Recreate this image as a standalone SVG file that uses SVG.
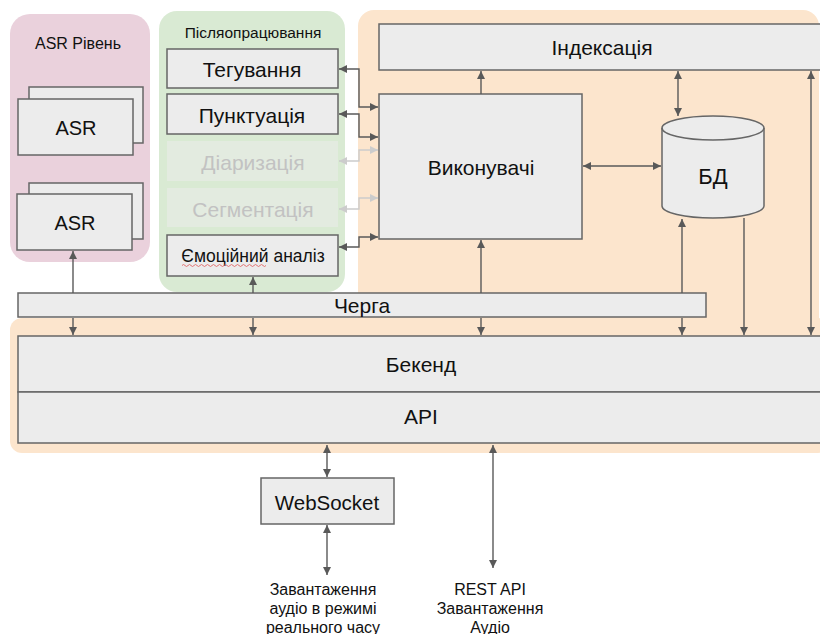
<svg xmlns="http://www.w3.org/2000/svg" width="820" height="634" viewBox="0 0 820 634">
<defs>
<marker id="ah" viewBox="0 0 10 10" refX="10" refY="5" markerWidth="9" markerHeight="8" markerUnits="userSpaceOnUse" orient="auto-start-reverse"><path d="M0,0 L10,5 L0,10 z" fill="#595959"/></marker>
<marker id="ahl" viewBox="0 0 10 10" refX="10" refY="5" markerWidth="9" markerHeight="8" markerUnits="userSpaceOnUse" orient="auto-start-reverse"><path d="M0,0 L10,5 L0,10 z" fill="#cccccc"/></marker>
</defs>
<style>
text{font-family:"Liberation Sans",Arial,sans-serif;fill:#111;text-anchor:middle;dominant-baseline:central}
.box{fill:#ececec;stroke:#666;stroke-width:1.5}
.fade{fill:#e3ebe0;stroke:none}
.ft{fill:#c2c2c2}
.c{fill:none;stroke:#595959;stroke-width:1.4}
.cl{fill:none;stroke:#cccccc;stroke-width:1.4}
.b{marker-end:url(#ah)}
.bb{marker-start:url(#ah);marker-end:url(#ah)}
.lb{marker-start:url(#ahl);marker-end:url(#ahl)}
.t18{font-size:21px}
</style>
<rect width="820" height="634" fill="#fff"/>
<g id="panels">
<rect x="10" y="14" width="140" height="248" rx="20" fill="#ead1dc"/>
<rect x="159" y="11" width="186" height="281" rx="18" fill="#d9ead3"/>
<rect x="358" y="10" width="461" height="330" rx="16" fill="#fce5cd"/>
<rect x="10" y="318" width="820" height="135" rx="12" fill="#fce5cd"/>
<text x="78" y="43" style="font-size:16px">ASR Рівень</text>
<text x="253" y="32" style="font-size:15.5px">Післяопрацювання</text>
</g>
<g id="asr1">
<rect class="box" x="29" y="87" width="114" height="56"/>
<rect class="box" x="18" y="99" width="115" height="56"/>
<text x="76" y="128" style="font-size:20px">ASR</text>
</g>
<g id="asr2">
<rect class="box" x="29" y="183" width="114" height="56"/>
<rect class="box" x="17" y="194" width="115" height="56"/>
<text x="75" y="223" style="font-size:20px">ASR</text>
</g>
<g id="teguvannia">
<rect class="box" x="167" y="49" width="171" height="39"/>
<text class="t18" x="252" y="69">Тегування</text>
</g>
<g id="punktuatsiia">
<rect class="box" x="167" y="94" width="171" height="40"/>
<text class="t18" x="252" y="115">Пунктуація</text>
</g>
<g id="diaryzatsiia">
<rect class="fade" x="167" y="141" width="171" height="40"/>
<text class="t18 ft" x="253" y="162">Діаризація</text>
</g>
<g id="segmentatsiia">
<rect class="fade" x="167" y="188" width="171" height="39"/>
<text class="t18 ft" x="253" y="209">Сегментація</text>
</g>
<g id="emotsiinyi">
<rect class="box" x="167" y="235" width="171" height="41"/>
<text x="253" y="256" style="font-size:17.5px">Ємоційний аналіз</text>
<path d="M182,265.5 q1.5,-2 3,0 t3,0 t3,0 t3,0 t3,0 t3,0 t3,0 t3,0 t3,0 t3,0 t3,0 t3,0 t3,0 t3,0 t3,0 t3,0 t3,0 t3,0 t3,0 t3,0 t3,0 t3,0 t3,0 t3,0 t3,0 t3,0 t3,0 t3,0" fill="none" stroke="#e06666" stroke-width="0.9"/>
</g>
<g id="indeksatsiia">
<rect class="box" x="379" y="24" width="450" height="46"/>
<text class="t18" x="602" y="47">Індексація</text>
</g>
<g id="vykonuvachi">
<rect class="box" x="379" y="94" width="203" height="145"/>
<text class="t18" x="481" y="167">Виконувачі</text>
</g>
<g id="bd">
<path class="box" d="M662,128 L662,206 A51,12 0 0 0 764,206 L764,128 A51,12 0 0 0 662,128 Z"/>
<path d="M662,128 A51,12 0 0 0 764,128" fill="none" stroke="#666" stroke-width="1.5"/>
<text x="713" y="176" style="font-size:22px">БД</text>
</g>
<g id="cherga">
<rect class="box" x="18" y="293" width="688" height="24"/>
<text class="t18" x="362" y="305">Черга</text>
</g>
<g id="bekend">
<rect class="box" x="18" y="336" width="812" height="56"/>
<text class="t18" x="421" y="364">Бекенд</text>
</g>
<g id="api">
<rect class="box" x="18" y="392" width="812" height="51"/>
<text class="t18" x="421" y="416">API</text>
</g>
<g id="websocket">
<rect class="box" x="261" y="478" width="133" height="46"/>
<text x="327" y="502" style="font-size:20.5px">WebSocket</text>
</g>
<g id="labels">
<text x="323" y="589" style="font-size:16px">Завантаження</text>
<text x="323" y="608" style="font-size:16px">аудіо в режимі</text>
<text x="323" y="627" style="font-size:16px">реального часу</text>
<text x="490" y="589" style="font-size:16px">REST API</text>
<text x="490" y="608" style="font-size:16px">Завантаження</text>
<text x="490" y="627" style="font-size:16px">Аудіо</text>
</g>
<g id="connectors">
<path class="c b" d="M73,293 V251"/>
<path class="c b" d="M73,318 V335"/>
<path class="c b" d="M253,293 V277"/>
<path class="c b" d="M253,318 V335"/>
<path class="c b" d="M481,293 V240"/>
<path class="c b" d="M481,318 V335"/>
<path class="c b" d="M682,293 V219"/>
<path class="c b" d="M682,318 V335"/>
<path class="c b" d="M744,218 V335"/>
<path class="c bb" d="M811,71 V335"/>
<path class="c b" d="M481,94 V71"/>
<path class="c bb" d="M678,71 V116"/>
<path class="c bb" d="M583,166 H661"/>
<path class="c bb" d="M339,69 H359 V107 H378"/>
<path class="c bb" d="M339,114 H359 V137 H378"/>
<path class="cl lb" d="M339,161 H359 V150 H378"/>
<path class="cl lb" d="M339,209 H359 V198 H378"/>
<path class="c bb" d="M339,247 H359 V237 H378"/>
<path class="c bb" d="M327,445 V477"/>
<path class="c bb" d="M327,525 V575"/>
<path class="c bb" d="M493,445 V568"/>
</g>
</svg>
